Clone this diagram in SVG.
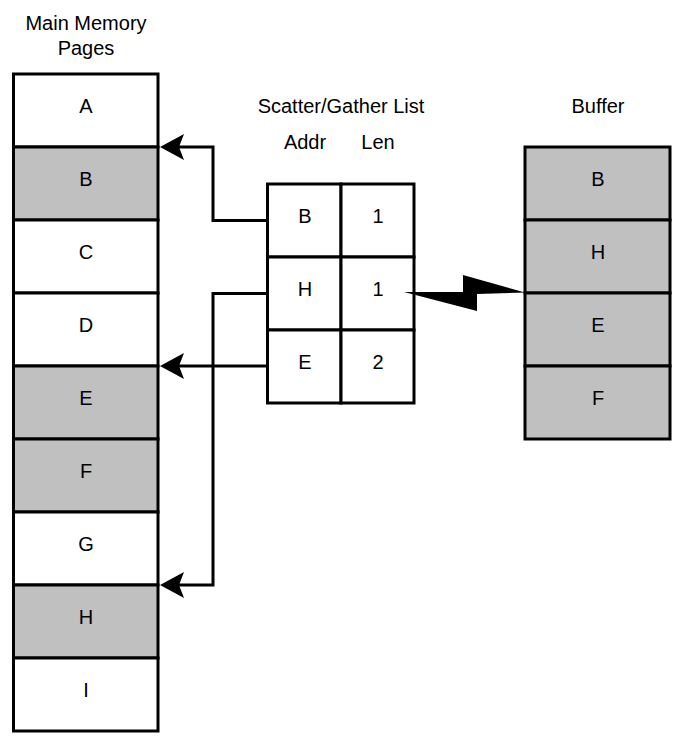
<svg xmlns="http://www.w3.org/2000/svg" width="676" height="740" viewBox="0 0 676 740">
  <style>
    .cell { stroke: #000; stroke-width: 3; }
    .white { fill: #fff; }
    .grey { fill: #c0c0c0; }
    .lbl { font-family: "Liberation Sans", Arial, sans-serif; font-size: 20px; fill: #000; text-anchor: middle; }
    .wire { fill: none; stroke: #000; stroke-width: 3; stroke-linejoin: miter; }
  </style>
  <defs>
    <!-- barbed arrowhead; the line stops inside it, the tip sits 10px further on -->
    <marker id="arrow" markerUnits="userSpaceOnUse" markerWidth="26" markerHeight="28" viewBox="0 0 26 28" refX="14" refY="13" orient="auto">
      <path d="M24,13 L0,0 L5,13 L0,26 Z" fill="#000"/>
    </marker>
  </defs>

  <rect width="676" height="740" fill="#fff"/>

  <!-- headings -->
  <g id="headings">
    <text class="lbl" x="86" y="30">Main Memory</text>
    <text class="lbl" x="86" y="55">Pages</text>
    <text class="lbl" x="341" y="113">Scatter/Gather List</text>
    <text class="lbl" x="305" y="149">Addr</text>
    <text class="lbl" x="378" y="149">Len</text>
    <text class="lbl" x="598" y="113">Buffer</text>
  </g>

  <!-- main memory pages -->
  <g id="memory">
    <g id="page-A"><rect class="cell white" x="13.5" y="74" width="144.5" height="73"/><text class="lbl" x="86" y="113">A</text></g>
    <g id="page-B"><rect class="cell grey" x="13.5" y="147" width="144.5" height="73"/><text class="lbl" x="86" y="186">B</text></g>
    <g id="page-C"><rect class="cell white" x="13.5" y="220" width="144.5" height="73"/><text class="lbl" x="86" y="259">C</text></g>
    <g id="page-D"><rect class="cell white" x="13.5" y="293" width="144.5" height="73"/><text class="lbl" x="86" y="332">D</text></g>
    <g id="page-E"><rect class="cell grey" x="13.5" y="366" width="144.5" height="73"/><text class="lbl" x="86" y="405">E</text></g>
    <g id="page-F"><rect class="cell grey" x="13.5" y="439" width="144.5" height="73"/><text class="lbl" x="86" y="478">F</text></g>
    <g id="page-G"><rect class="cell white" x="13.5" y="512" width="144.5" height="73"/><text class="lbl" x="86" y="551">G</text></g>
    <g id="page-H"><rect class="cell grey" x="13.5" y="585" width="144.5" height="73"/><text class="lbl" x="86" y="624">H</text></g>
    <g id="page-I"><rect class="cell white" x="13.5" y="658" width="144.5" height="73"/><text class="lbl" x="86" y="697">I</text></g>
  </g>

  <!-- scatter/gather list -->
  <g id="sglist">
    <g id="entry-1">
      <rect class="cell white" x="267.5" y="184" width="73.5" height="73"/><text class="lbl" x="305" y="223">B</text>
      <rect class="cell white" x="341" y="184" width="73" height="73"/><text class="lbl" x="378" y="223">1</text>
    </g>
    <g id="entry-2">
      <rect class="cell white" x="267.5" y="257" width="73.5" height="73"/><text class="lbl" x="305" y="296">H</text>
      <rect class="cell white" x="341" y="257" width="73" height="73"/><text class="lbl" x="378" y="296">1</text>
    </g>
    <g id="entry-3">
      <rect class="cell white" x="267.5" y="330" width="73.5" height="73"/><text class="lbl" x="305" y="369">E</text>
      <rect class="cell white" x="341" y="330" width="73" height="73"/><text class="lbl" x="378" y="369">2</text>
    </g>
  </g>

  <!-- contiguous buffer -->
  <g id="buffer">
    <g id="buf-B"><rect class="cell grey" x="525" y="147" width="145" height="73"/><text class="lbl" x="598" y="186">B</text></g>
    <g id="buf-H"><rect class="cell grey" x="525" y="220" width="145" height="73"/><text class="lbl" x="598" y="259">H</text></g>
    <g id="buf-E"><rect class="cell grey" x="525" y="293" width="145" height="73"/><text class="lbl" x="598" y="332">E</text></g>
    <g id="buf-F"><rect class="cell grey" x="525" y="366" width="145" height="73"/><text class="lbl" x="598" y="405">F</text></g>
  </g>

  <!-- connectors -->
  <g id="connectors">
    <path class="wire" d="M267.5,220.5 H213 V147 H170" marker-end="url(#arrow)"/>
    <path class="wire" d="M267.5,293.5 H213 V585 H170" marker-end="url(#arrow)"/>
    <path class="wire" d="M267.5,366 H170" marker-end="url(#arrow)"/>
    <!-- lightning bolt from the length cell to the buffer -->
    <polygon points="404,292 463,292 463,275 525,292.5 477,294 477,311" fill="#000"/>
  </g>
</svg>
